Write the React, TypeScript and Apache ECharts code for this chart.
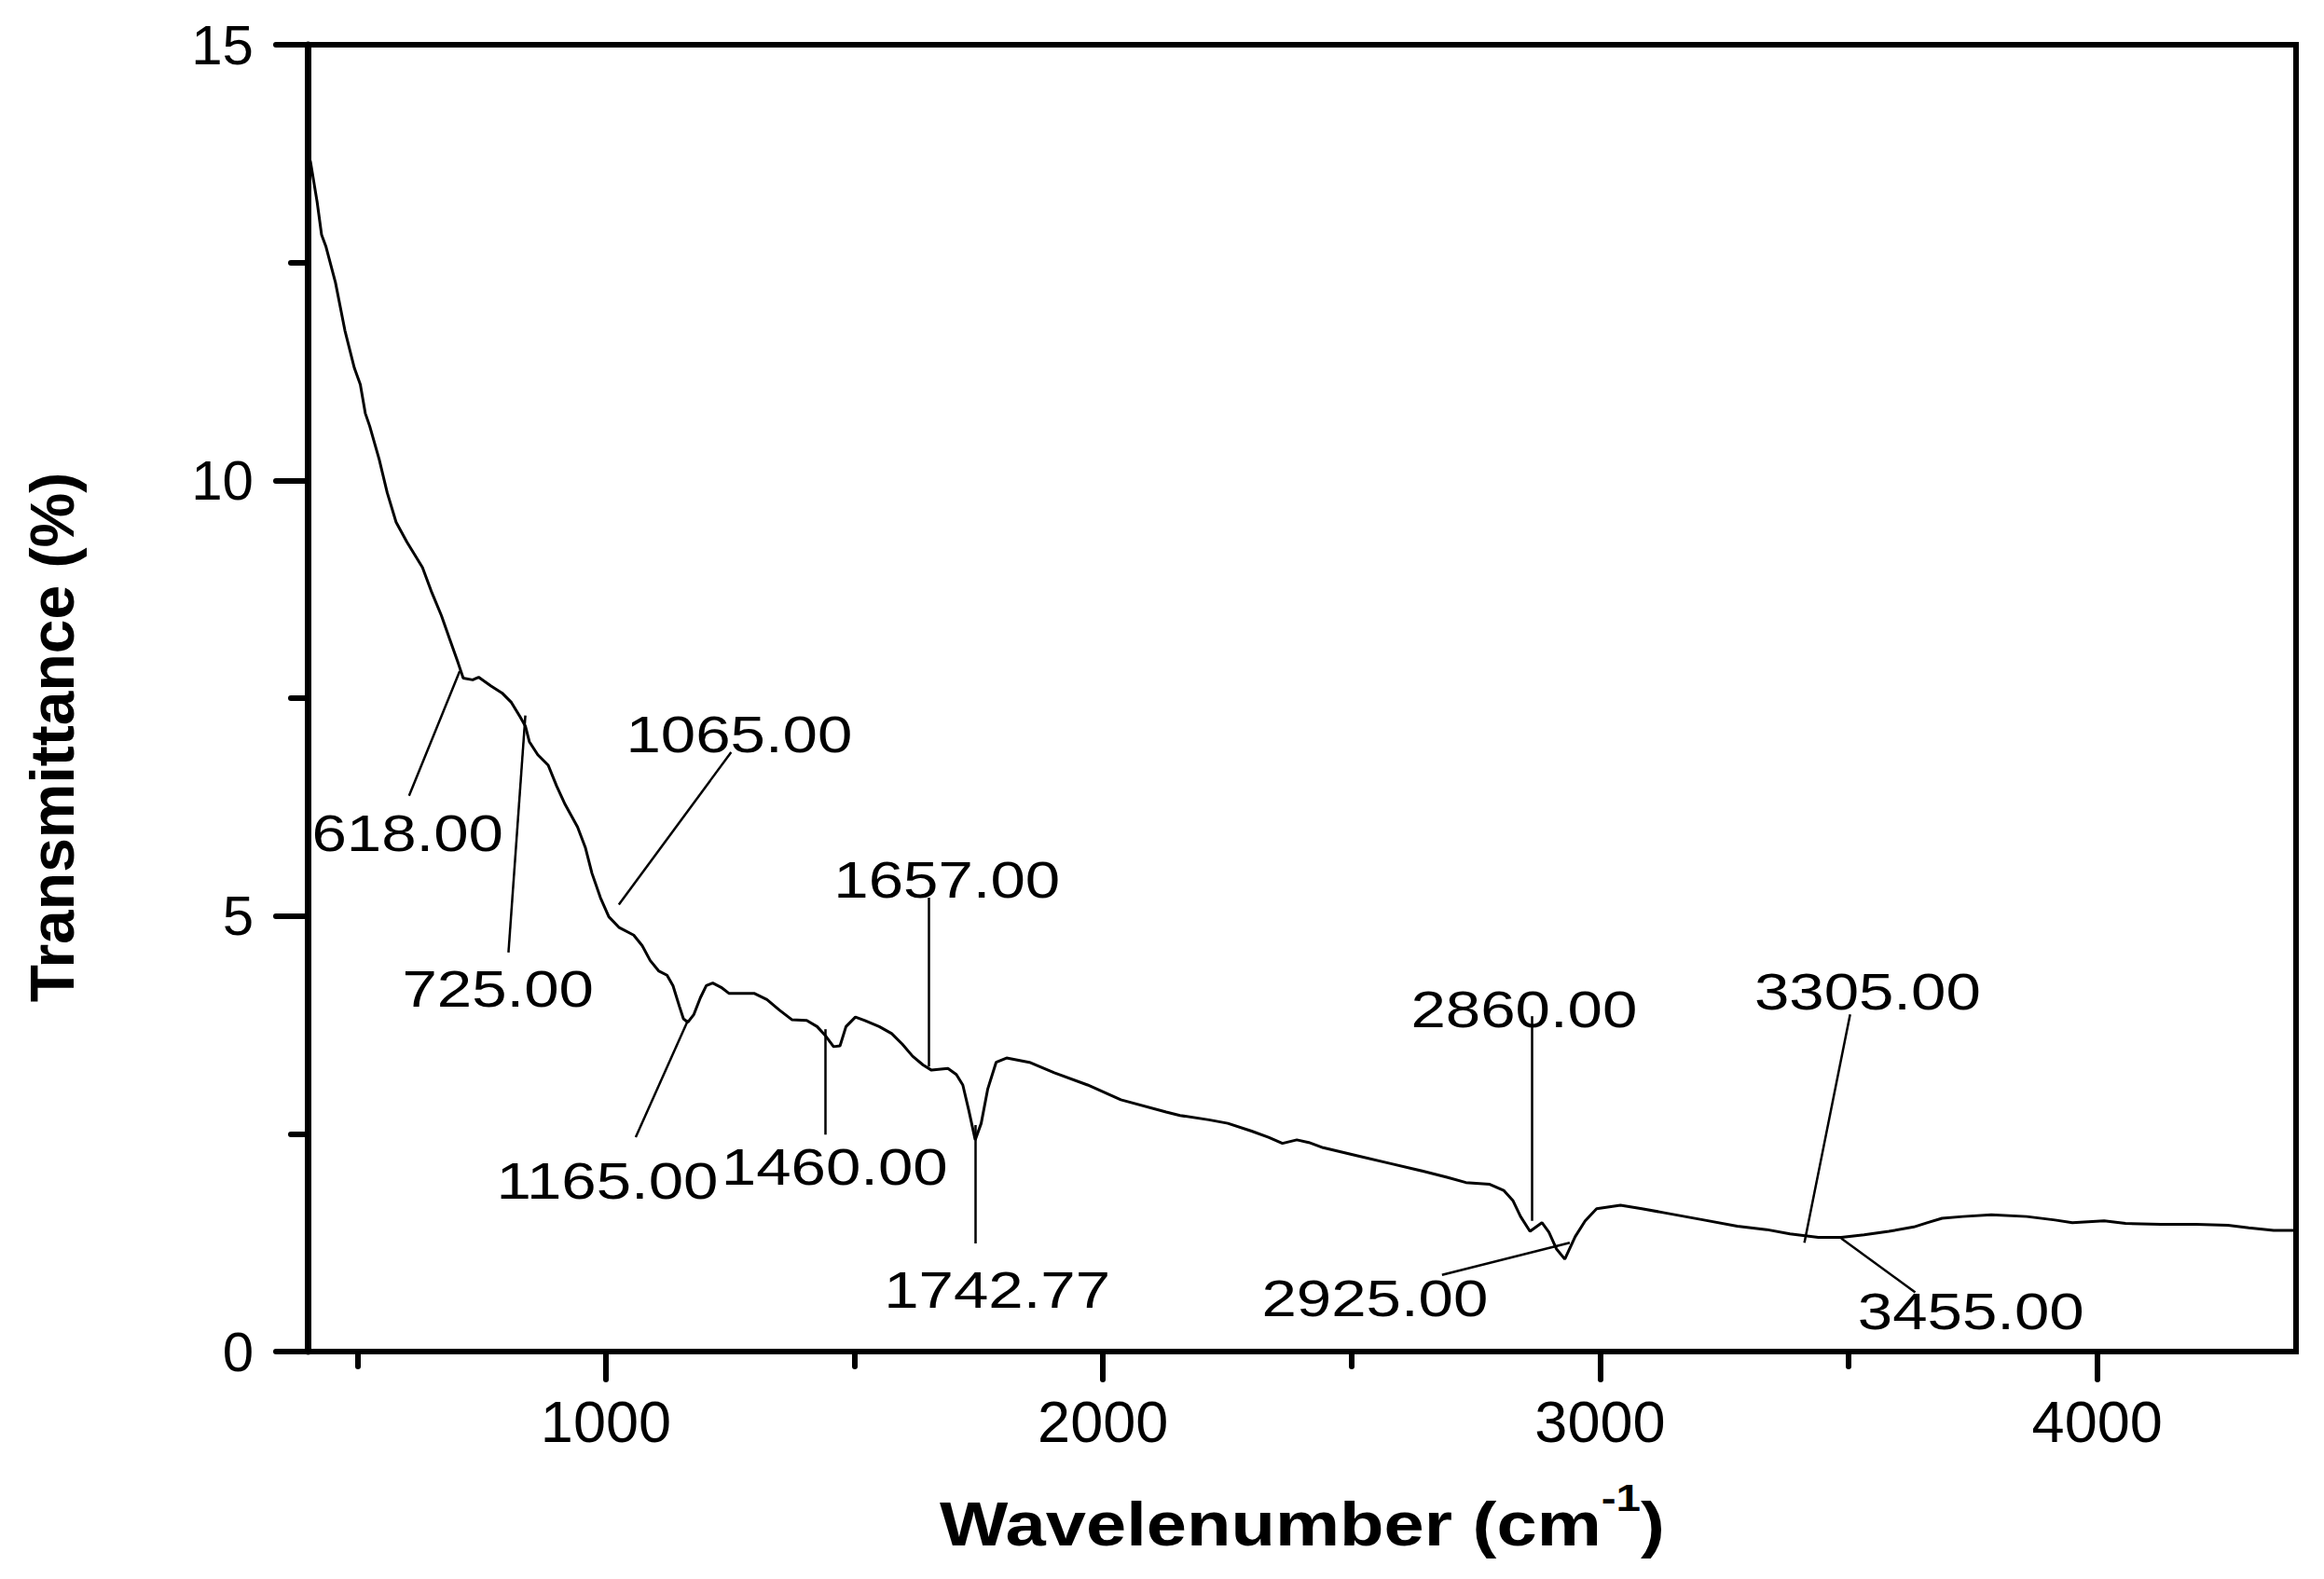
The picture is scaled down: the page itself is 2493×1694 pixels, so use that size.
import React, { useEffect, useRef } from "react";
import * as echarts from "echarts";

// ---- Spectrum data ----
const wavenumbers = [
  400, 406, 419, 428, 437, 456, 475, 494, 506, 516, 525, 544, 560, 578, 600, 631, 650, 669, 685, 703,
  713, 732, 744, 769, 791, 810, 828, 838, 846, 863, 884, 901, 918, 943, 959, 972, 989, 1006, 1026, 1056,
  1073, 1089, 1106, 1123, 1135, 1148, 1156, 1165, 1177, 1190, 1202, 1215, 1232, 1248, 1270, 1299, 1324,
  1349, 1374, 1404, 1425, 1441, 1458, 1471, 1483, 1502, 1521, 1550, 1575, 1596, 1617, 1638, 1655, 1688,
  1705, 1718, 1730, 1743, 1755, 1768, 1785, 1806, 1852, 1902, 1969, 2036, 2127, 2155, 2213, 2251, 2299,
  2333, 2361, 2390, 2414, 2443, 2510, 2577, 2644, 2692, 2730, 2778, 2806, 2825, 2840, 2859, 2883, 2897,
  2912, 2929, 2950, 2970, 2993, 3041, 3084, 3132, 3209, 3276, 3335, 3382, 3439, 3485, 3531, 3581, 3631,
  3659, 3688, 3730, 3787, 3858, 3915, 3950, 4014, 4057, 4128, 4199, 4263, 4305, 4355, 4400,
];
const transmittance = [
  13.78, 13.65, 13.2, 12.82, 12.68, 12.27, 11.72, 11.29, 11.1, 10.77, 10.62, 10.24, 9.86, 9.52, 9.29, 9.0,
  8.71, 8.45, 8.19, 7.9, 7.73, 7.71, 7.74, 7.64, 7.56, 7.45, 7.28, 7.18, 7.0, 6.85, 6.73, 6.49, 6.28, 6.02,
  5.78, 5.49, 5.21, 4.99, 4.87, 4.78, 4.66, 4.49, 4.37, 4.32, 4.2, 3.96, 3.82, 3.78, 3.87, 4.06, 4.2, 4.23,
  4.18, 4.11, 4.11, 4.11, 4.04, 3.92, 3.81, 3.8, 3.73, 3.63, 3.5, 3.51, 3.73, 3.84, 3.8, 3.73, 3.65, 3.53,
  3.39, 3.29, 3.23, 3.25, 3.18, 3.06, 2.77, 2.43, 2.62, 3.01, 3.32, 3.37, 3.32, 3.2, 3.06, 2.89, 2.75, 2.71,
  2.66, 2.62, 2.53, 2.46, 2.39, 2.43, 2.4, 2.34, 2.25, 2.16, 2.07, 2.0, 1.94, 1.92, 1.85, 1.73, 1.55, 1.38,
  1.48, 1.37, 1.18, 1.06, 1.32, 1.5, 1.64, 1.68, 1.64, 1.59, 1.51, 1.44, 1.4, 1.35, 1.31, 1.31, 1.34, 1.38,
  1.43, 1.48, 1.53, 1.55, 1.57, 1.55, 1.51, 1.48, 1.5, 1.47, 1.46, 1.46, 1.45, 1.42, 1.39, 1.39,
];

// ---- Axis ticks ----
const xMajorTicks = [1000, 2000, 3000, 4000];
const xMinorTicks = [500, 1500, 2500, 3500];

// ---- Peak annotations (data coordinates) ----
const peakLabels = ["618.00", "725.00", "1065.00", "1165.00", "1460.00", "1657.00", "1742.77", "2860.00", "2925.00", "3305.00", "3455.00"];
const leaderStartX = [706, 838, 1026, 1165, 1441, 1650, 1743, 2862, 2939, 3411, 3485];
const leaderStartY = [7.81, 7.3, 5.13, 3.8, 3.7, 3.27, 2.6, 1.5, 1.25, 1.25, 1.3];
const leaderEndX = [604, 804, 1252, 1060, 1441, 1650, 1743, 2862, 2682, 3503, 3634];
const leaderEndY = [6.38, 4.58, 6.88, 2.46, 2.49, 5.21, 1.24, 3.85, 0.88, 3.87, 0.68];
const labelX = [601, 783, 1268, 1003, 1460, 1686, 1787, 2847, 2547, 3538, 3746];
const labelY = [5.95, 4.17, 7.09, 1.96, 2.12, 5.42, 0.71, 3.93, 0.62, 4.14, 0.46];

const FONT = "'Liberation Sans', Arial, sans-serif";
const H_STRETCH = 1.2;

export default function App() {
  const ref = useRef<HTMLDivElement>(null);

  useEffect(() => {
    if (!ref.current) return;
    const chart = echarts.init(ref.current, null, { renderer: "svg" });

    const spectrum = wavenumbers.map((w, i) => [w, transmittance[i]]);
    const leaders = peakLabels.map((_, i) => ({
      coords: [
        [leaderStartX[i], leaderStartY[i]],
        [leaderEndX[i], leaderEndY[i]],
      ],
    }));
    const labelPoints = peakLabels.map((_, i) => [labelX[i], labelY[i]]);

    const option: any = {
      animation: false,
      backgroundColor: "#ffffff",
      grid: {
        left: 330,
        top: 48,
        right: 30,
        bottom: 244,
        show: true,
        borderColor: "#000",
        borderWidth: 6,
        backgroundColor: "transparent",
      },
      xAxis: [
        {
          type: "value",
          min: 400,
          max: 4400,
          position: "bottom",
          axisLine: { show: true, onZero: false, lineStyle: { color: "#000", width: 6 } },
          axisTick: {
            show: true,
            customValues: xMajorTicks,
            length: 30,
            lineStyle: { color: "#000", width: 6, cap: "round" },
          },
          axisLabel: {
            show: true,
            customValues: xMajorTicks,
            formatter: (v: number) => String(v),
            fontSize: 63,
            color: "#000",
            fontFamily: FONT,
            margin: 43,
          },
          splitLine: { show: false },
        },
        {
          type: "value",
          min: 400,
          max: 4400,
          position: "bottom",
          axisLine: { show: false, onZero: false },
          axisTick: {
            show: true,
            customValues: xMinorTicks,
            length: 16,
            lineStyle: { color: "#000", width: 6, cap: "round" },
          },
          axisLabel: { show: false },
          splitLine: { show: false },
        },
      ],
      yAxis: {
        type: "value",
        min: 0,
        max: 15,
        interval: 5,
        axisLine: { show: true, onZero: false, lineStyle: { color: "#000", width: 7 } },
        axisTick: { show: true, length: 34, lineStyle: { color: "#000", width: 6, cap: "round" } },
        minorTick: { show: true, splitNumber: 2, length: 18, lineStyle: { color: "#000", width: 6, cap: "round" } },
        axisLabel: { fontSize: 60, color: "#000", fontFamily: FONT, margin: 58 },
        splitLine: { show: false },
        minorSplitLine: { show: false },
      },
      series: [
        {
          type: "line",
          data: spectrum,
          xAxisIndex: 0,
          yAxisIndex: 0,
          showSymbol: false,
          symbol: "none",
          smooth: false,
          lineStyle: { color: "#000", width: 3 },
          silent: true,
          z: 3,
        },
        {
          type: "lines",
          coordinateSystem: "cartesian2d",
          xAxisIndex: 0,
          yAxisIndex: 0,
          data: leaders,
          lineStyle: { color: "#000", width: 2.5, opacity: 1, curveness: 0 },
          silent: true,
          z: 4,
        },
        {
          type: "custom",
          coordinateSystem: "cartesian2d",
          xAxisIndex: 0,
          yAxisIndex: 0,
          data: labelPoints,
          silent: true,
          z: 5,
          renderItem: (params: any, api: any) => {
            const pt = api.coord([api.value(0), api.value(1)]);
            return {
              type: "text",
              x: pt[0],
              y: pt[1],
              scaleX: H_STRETCH,
              style: {
                text: peakLabels[params.dataIndex],
                fontSize: 56,
                fontFamily: FONT,
                fill: "#000",
                align: "center",
                verticalAlign: "middle",
              },
            };
          },
        },
      ],
      graphic: [
        {
          type: "text",
          x: 1397,
          y: 1634,
          scaleX: 1.16,
          style: {
            text: "{a|Wavelenumber (cm}{b|-1}{a|)}",
            textAlign: "center",
            textVerticalAlign: "middle",
            fill: "#000",
            rich: {
              a: { fontSize: 67, fontWeight: "bold", fontFamily: FONT, fill: "#000", lineHeight: 96 },
              b: { fontSize: 41, fontWeight: "bold", fontFamily: FONT, fill: "#000", lineHeight: 48, verticalAlign: "top" },
            },
          },
        },
        {
          type: "text",
          x: 56,
          y: 791,
          rotation: Math.PI / 2,
          style: {
            text: "Transmittance (%)",
            textAlign: "center",
            textVerticalAlign: "middle",
            fontSize: 66,
            fontWeight: "bold",
            fontFamily: FONT,
            fill: "#000",
          },
        },
      ],
    };

    chart.setOption(option);
    return () => chart.dispose();
  }, []);

  return (
    <div
      ref={ref}
      style={{ position: "absolute", left: 0, top: 0, width: 2493, height: 1694, background: "#fff" }}
    />
  );
}
